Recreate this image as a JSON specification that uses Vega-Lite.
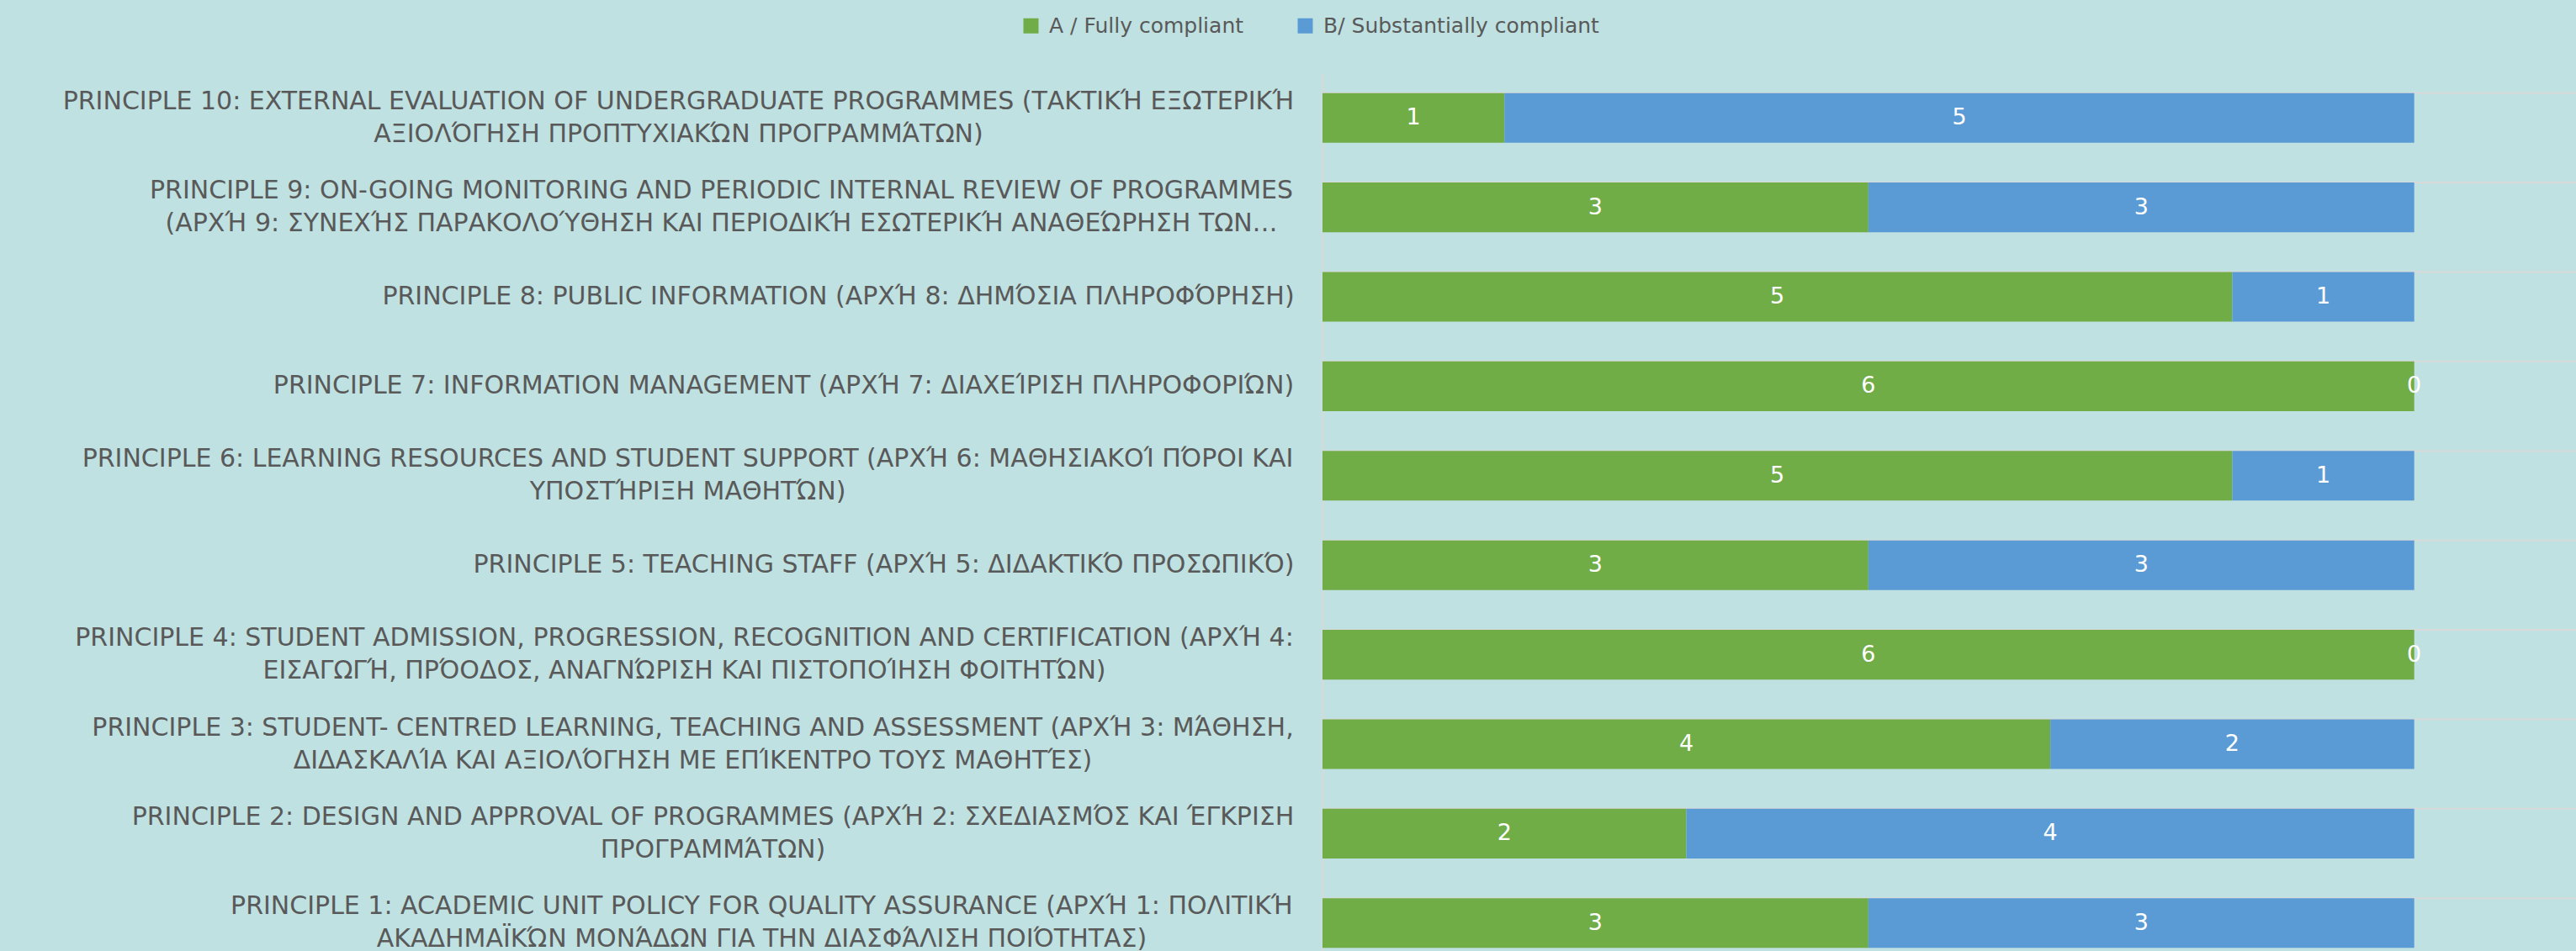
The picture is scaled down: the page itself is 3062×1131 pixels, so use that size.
{
  "$schema": "https://vega.github.io/schema/vega-lite/v6.json",
  "width": 1514,
  "height": 1064,
  "autosize": {"type": "none"},
  "padding": {"left": 1572, "top": 87, "right": -24, "bottom": -20},
  "background": "#BFE1E1",
  "config": {"view": {"stroke": null}, "font": "DejaVu Sans"},
  "data": {"values": [
    {"n": 10, "label": "PRINCIPLE 10: EXTERNAL EVALUATION OF UNDERGRADUATE PROGRAMMES (ΤΑΚΤΙΚΉ ΕΞΩΤΕΡΙΚΉ|ΑΞΙΟΛΌΓΗΣΗ ΠΡΟΠΤΥΧΙΑΚΏΝ ΠΡΟΓΡΑΜΜΆΤΩΝ)", "s": "A / Fully compliant", "v": 1},
    {"n": 10, "label": "PRINCIPLE 10: EXTERNAL EVALUATION OF UNDERGRADUATE PROGRAMMES (ΤΑΚΤΙΚΉ ΕΞΩΤΕΡΙΚΉ|ΑΞΙΟΛΌΓΗΣΗ ΠΡΟΠΤΥΧΙΑΚΏΝ ΠΡΟΓΡΑΜΜΆΤΩΝ)", "s": "B/ Substantially compliant", "v": 5},
    {"n": 9, "label": "PRINCIPLE 9: ON-GOING MONITORING AND PERIODIC INTERNAL REVIEW OF PROGRAMMES|(ΑΡΧΉ 9: ΣΥΝΕΧΉΣ ΠΑΡΑΚΟΛΟΎΘΗΣΗ ΚΑΙ ΠΕΡΙΟΔΙΚΉ ΕΣΩΤΕΡΙΚΉ ΑΝΑΘΕΏΡΗΣΗ ΤΩΝ…", "s": "A / Fully compliant", "v": 3},
    {"n": 9, "label": "PRINCIPLE 9: ON-GOING MONITORING AND PERIODIC INTERNAL REVIEW OF PROGRAMMES|(ΑΡΧΉ 9: ΣΥΝΕΧΉΣ ΠΑΡΑΚΟΛΟΎΘΗΣΗ ΚΑΙ ΠΕΡΙΟΔΙΚΉ ΕΣΩΤΕΡΙΚΉ ΑΝΑΘΕΏΡΗΣΗ ΤΩΝ…", "s": "B/ Substantially compliant", "v": 3},
    {"n": 8, "label": "PRINCIPLE 8: PUBLIC INFORMATION (ΑΡΧΉ 8: ΔΗΜΌΣΙΑ ΠΛΗΡΟΦΌΡΗΣΗ)", "s": "A / Fully compliant", "v": 5},
    {"n": 8, "label": "PRINCIPLE 8: PUBLIC INFORMATION (ΑΡΧΉ 8: ΔΗΜΌΣΙΑ ΠΛΗΡΟΦΌΡΗΣΗ)", "s": "B/ Substantially compliant", "v": 1},
    {"n": 7, "label": "PRINCIPLE 7: INFORMATION MANAGEMENT (ΑΡΧΉ 7: ΔΙΑΧΕΊΡΙΣΗ ΠΛΗΡΟΦΟΡΙΏΝ)", "s": "A / Fully compliant", "v": 6},
    {"n": 7, "label": "PRINCIPLE 7: INFORMATION MANAGEMENT (ΑΡΧΉ 7: ΔΙΑΧΕΊΡΙΣΗ ΠΛΗΡΟΦΟΡΙΏΝ)", "s": "B/ Substantially compliant", "v": 0},
    {"n": 6, "label": "PRINCIPLE 6: LEARNING RESOURCES AND STUDENT SUPPORT (ΑΡΧΉ 6: ΜΑΘΗΣΙΑΚΟΊ ΠΌΡΟΙ ΚΑΙ|ΥΠΟΣΤΉΡΙΞΗ ΜΑΘΗΤΏΝ)", "s": "A / Fully compliant", "v": 5},
    {"n": 6, "label": "PRINCIPLE 6: LEARNING RESOURCES AND STUDENT SUPPORT (ΑΡΧΉ 6: ΜΑΘΗΣΙΑΚΟΊ ΠΌΡΟΙ ΚΑΙ|ΥΠΟΣΤΉΡΙΞΗ ΜΑΘΗΤΏΝ)", "s": "B/ Substantially compliant", "v": 1},
    {"n": 5, "label": "PRINCIPLE 5: TEACHING STAFF (ΑΡΧΉ 5: ΔΙΔΑΚΤΙΚΌ ΠΡΟΣΩΠΙΚΌ)", "s": "A / Fully compliant", "v": 3},
    {"n": 5, "label": "PRINCIPLE 5: TEACHING STAFF (ΑΡΧΉ 5: ΔΙΔΑΚΤΙΚΌ ΠΡΟΣΩΠΙΚΌ)", "s": "B/ Substantially compliant", "v": 3},
    {"n": 4, "label": "PRINCIPLE 4: STUDENT ADMISSION, PROGRESSION, RECOGNITION AND CERTIFICATION (ΑΡΧΉ 4:|ΕΙΣΑΓΩΓΉ, ΠΡΌΟΔΟΣ, ΑΝΑΓΝΏΡΙΣΗ ΚΑΙ ΠΙΣΤΟΠΟΊΗΣΗ ΦΟΙΤΗΤΏΝ)", "s": "A / Fully compliant", "v": 6},
    {"n": 4, "label": "PRINCIPLE 4: STUDENT ADMISSION, PROGRESSION, RECOGNITION AND CERTIFICATION (ΑΡΧΉ 4:|ΕΙΣΑΓΩΓΉ, ΠΡΌΟΔΟΣ, ΑΝΑΓΝΏΡΙΣΗ ΚΑΙ ΠΙΣΤΟΠΟΊΗΣΗ ΦΟΙΤΗΤΏΝ)", "s": "B/ Substantially compliant", "v": 0},
    {"n": 3, "label": "PRINCIPLE 3: STUDENT- CENTRED LEARNING, TEACHING AND ASSESSMENT (ΑΡΧΉ 3: ΜΆΘΗΣΗ,|ΔΙΔΑΣΚΑΛΊΑ ΚΑΙ ΑΞΙΟΛΌΓΗΣΗ ΜΕ ΕΠΊΚΕΝΤΡΟ ΤΟΥΣ ΜΑΘΗΤΈΣ)", "s": "A / Fully compliant", "v": 4},
    {"n": 3, "label": "PRINCIPLE 3: STUDENT- CENTRED LEARNING, TEACHING AND ASSESSMENT (ΑΡΧΉ 3: ΜΆΘΗΣΗ,|ΔΙΔΑΣΚΑΛΊΑ ΚΑΙ ΑΞΙΟΛΌΓΗΣΗ ΜΕ ΕΠΊΚΕΝΤΡΟ ΤΟΥΣ ΜΑΘΗΤΈΣ)", "s": "B/ Substantially compliant", "v": 2},
    {"n": 2, "label": "PRINCIPLE 2: DESIGN AND APPROVAL OF PROGRAMMES (ΑΡΧΉ 2: ΣΧΕΔΙΑΣΜΌΣ ΚΑΙ ΈΓΚΡΙΣΗ|ΠΡΟΓΡΑΜΜΆΤΩΝ)", "s": "A / Fully compliant", "v": 2},
    {"n": 2, "label": "PRINCIPLE 2: DESIGN AND APPROVAL OF PROGRAMMES (ΑΡΧΉ 2: ΣΧΕΔΙΑΣΜΌΣ ΚΑΙ ΈΓΚΡΙΣΗ|ΠΡΟΓΡΑΜΜΆΤΩΝ)", "s": "B/ Substantially compliant", "v": 4},
    {"n": 1, "label": "PRINCIPLE 1: ACADEMIC UNIT POLICY FOR QUALITY ASSURANCE (ΑΡΧΉ 1: ΠΟΛΙΤΙΚΉ|ΑΚΑΔΗΜΑΪΚΏΝ ΜΟΝΆΔΩΝ ΓΙΑ ΤΗΝ ΔΙΑΣΦΆΛΙΣΗ ΠΟΙΌΤΗΤΑΣ)", "s": "A / Fully compliant", "v": 3},
    {"n": 1, "label": "PRINCIPLE 1: ACADEMIC UNIT POLICY FOR QUALITY ASSURANCE (ΑΡΧΉ 1: ΠΟΛΙΤΙΚΉ|ΑΚΑΔΗΜΑΪΚΏΝ ΜΟΝΆΔΩΝ ΓΙΑ ΤΗΝ ΔΙΑΣΦΆΛΙΣΗ ΠΟΙΌΤΗΤΑΣ)", "s": "B/ Substantially compliant", "v": 3}
  ]},
  "encoding": {
    "y": {
      "field": "label", "type": "nominal",
      "sort": [
        "PRINCIPLE 10: EXTERNAL EVALUATION OF UNDERGRADUATE PROGRAMMES (ΤΑΚΤΙΚΉ ΕΞΩΤΕΡΙΚΉ|ΑΞΙΟΛΌΓΗΣΗ ΠΡΟΠΤΥΧΙΑΚΏΝ ΠΡΟΓΡΑΜΜΆΤΩΝ)",
        "PRINCIPLE 9: ON-GOING MONITORING AND PERIODIC INTERNAL REVIEW OF PROGRAMMES|(ΑΡΧΉ 9: ΣΥΝΕΧΉΣ ΠΑΡΑΚΟΛΟΎΘΗΣΗ ΚΑΙ ΠΕΡΙΟΔΙΚΉ ΕΣΩΤΕΡΙΚΉ ΑΝΑΘΕΏΡΗΣΗ ΤΩΝ…",
        "PRINCIPLE 8: PUBLIC INFORMATION (ΑΡΧΉ 8: ΔΗΜΌΣΙΑ ΠΛΗΡΟΦΌΡΗΣΗ)",
        "PRINCIPLE 7: INFORMATION MANAGEMENT (ΑΡΧΉ 7: ΔΙΑΧΕΊΡΙΣΗ ΠΛΗΡΟΦΟΡΙΏΝ)",
        "PRINCIPLE 6: LEARNING RESOURCES AND STUDENT SUPPORT (ΑΡΧΉ 6: ΜΑΘΗΣΙΑΚΟΊ ΠΌΡΟΙ ΚΑΙ|ΥΠΟΣΤΉΡΙΞΗ ΜΑΘΗΤΏΝ)",
        "PRINCIPLE 5: TEACHING STAFF (ΑΡΧΉ 5: ΔΙΔΑΚΤΙΚΌ ΠΡΟΣΩΠΙΚΌ)",
        "PRINCIPLE 4: STUDENT ADMISSION, PROGRESSION, RECOGNITION AND CERTIFICATION (ΑΡΧΉ 4:|ΕΙΣΑΓΩΓΉ, ΠΡΌΟΔΟΣ, ΑΝΑΓΝΏΡΙΣΗ ΚΑΙ ΠΙΣΤΟΠΟΊΗΣΗ ΦΟΙΤΗΤΏΝ)",
        "PRINCIPLE 3: STUDENT- CENTRED LEARNING, TEACHING AND ASSESSMENT (ΑΡΧΉ 3: ΜΆΘΗΣΗ,|ΔΙΔΑΣΚΑΛΊΑ ΚΑΙ ΑΞΙΟΛΌΓΗΣΗ ΜΕ ΕΠΊΚΕΝΤΡΟ ΤΟΥΣ ΜΑΘΗΤΈΣ)",
        "PRINCIPLE 2: DESIGN AND APPROVAL OF PROGRAMMES (ΑΡΧΉ 2: ΣΧΕΔΙΑΣΜΌΣ ΚΑΙ ΈΓΚΡΙΣΗ|ΠΡΟΓΡΑΜΜΆΤΩΝ)",
        "PRINCIPLE 1: ACADEMIC UNIT POLICY FOR QUALITY ASSURANCE (ΑΡΧΉ 1: ΠΟΛΙΤΙΚΉ|ΑΚΑΔΗΜΑΪΚΏΝ ΜΟΝΆΔΩΝ ΓΙΑ ΤΗΝ ΔΙΑΣΦΆΛΙΣΗ ΠΟΙΌΤΗΤΑΣ)"
      ],
      "scale": {"paddingInner": 0.445, "paddingOuter": 0.2225},
      "axis": {
        "title": null, "ticks": false, "grid": false,
        "domain": true, "domainColor": "#D9D9D9", "domainWidth": 2,
        "labelExpr": "split(datum.label, '|')",
        "labelAlign": "center", "labelBaseline": "middle",
        "labelFont": "DejaVu Sans", "labelFontSize": 30, "labelColor": "#595959",
        "labelLineHeight": 39, "labelLimit": 0,
        "labelOffset": {"condition": {"test": "indexof(datum.value, '|') >= 0", "value": -19.5}, "value": 0},
        "labelPadding": {"condition": [
          {"test": "indexof(datum.value, 'PRINCIPLE 10:') >= 0", "value": 766},
          {"test": "indexof(datum.value, 'PRINCIPLE 9:') >= 0", "value": 715},
          {"test": "indexof(datum.value, 'PRINCIPLE 8:') >= 0", "value": 576},
          {"test": "indexof(datum.value, 'PRINCIPLE 7:') >= 0", "value": 641},
          {"test": "indexof(datum.value, 'PRINCIPLE 6:') >= 0", "value": 755},
          {"test": "indexof(datum.value, 'PRINCIPLE 5:') >= 0", "value": 522},
          {"test": "indexof(datum.value, 'PRINCIPLE 4:') >= 0", "value": 759},
          {"test": "indexof(datum.value, 'PRINCIPLE 3:') >= 0", "value": 749},
          {"test": "indexof(datum.value, 'PRINCIPLE 2:') >= 0", "value": 725}
        ], "value": 667}
      }
    }
  },
  "layer": [
    {
      "transform": [{"filter": "datum.s == 'A / Fully compliant'"}],
      "mark": {"type": "rule", "color": "#D9D9D9", "strokeWidth": 2},
      "encoding": {
        "y": {"field": "label", "type": "nominal", "bandPosition": 0}
      }
    },
    {
      "mark": {"type": "bar"},
      "encoding": {
        "x": {"field": "v", "type": "quantitative", "stack": "zero", "scale": {"domain": [0, 7], "nice": false}, "axis": null},
        "color": {
          "field": "s", "type": "nominal",
          "scale": {"domain": ["A / Fully compliant", "B/ Substantially compliant"], "range": ["#70AD47", "#5B9BD5"]},
          "legend": {
            "orient": "none", "legendX": -359, "legendY": -69, "direction": "horizontal",
            "title": null, "symbolType": "square", "symbolSize": 324, "symbolStrokeWidth": 0,
            "labelFont": "DejaVu Sans", "labelFontSize": 25, "labelColor": "#595959",
            "labelOffset": 9, "columnPadding": 60, "labelLimit": 0
          }
        },
        "order": {"field": "s", "type": "nominal", "sort": "ascending"}
      }
    },
    {
      "mark": {"type": "text", "color": "white", "fontSize": 27, "font": "DejaVu Sans", "align": "center", "baseline": "middle"},
      "encoding": {
        "x": {"field": "v", "type": "quantitative", "stack": "zero", "bandPosition": 0.5},
        "order": {"field": "s", "type": "nominal", "sort": "ascending"},
        "text": {"field": "v", "type": "quantitative"}
      }
    }
  ]
}
